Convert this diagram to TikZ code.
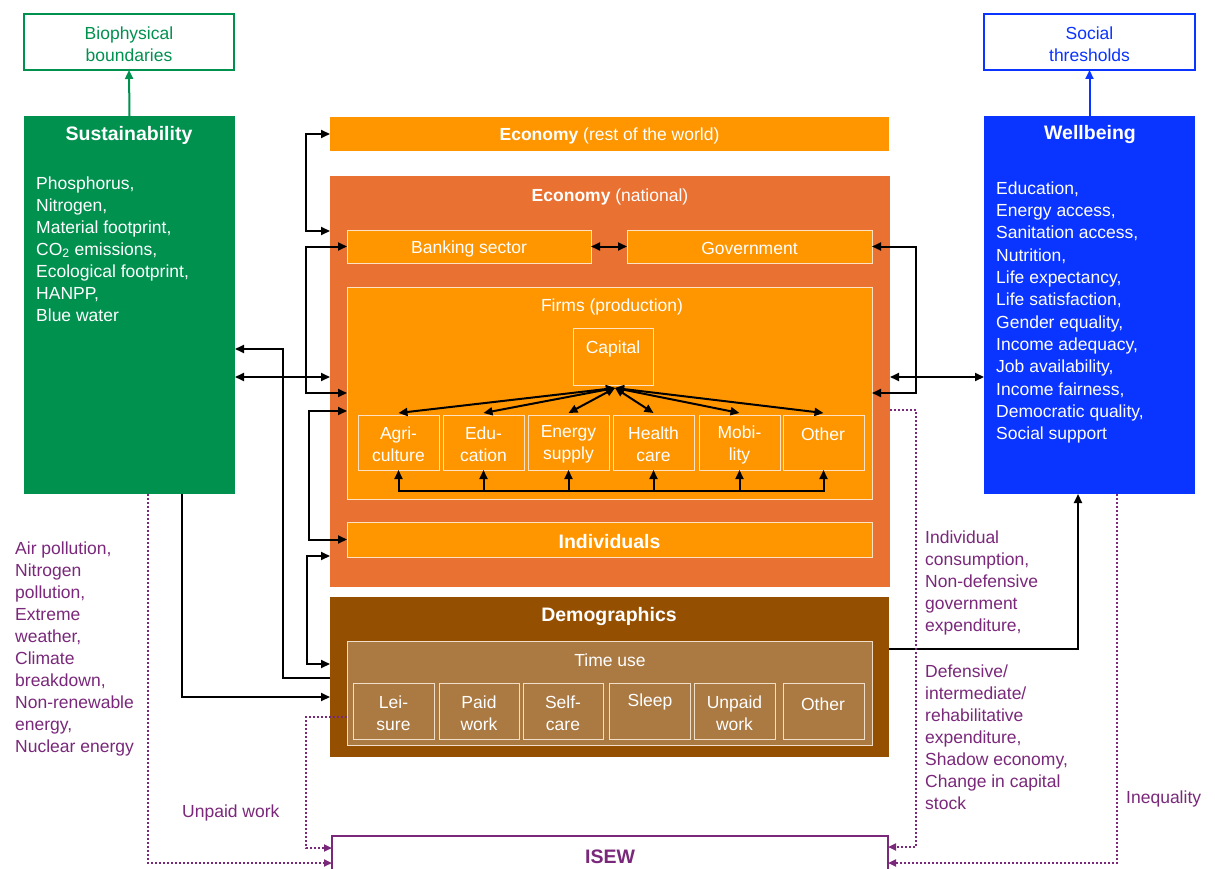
\documentclass[tikz,border=0pt]{standalone}
\usepackage{fontspec}
\setmainfont{Liberation Sans}
\usetikzlibrary{arrows.meta,calc}
\definecolor{cgreen}{RGB}{0,145,79}
\definecolor{cblue}{RGB}{10,52,255}
\definecolor{corL}{RGB}{255,150,0}
\definecolor{corD}{RGB}{233,113,50}
\definecolor{cbrown}{RGB}{149,79,0}
\definecolor{ctime}{RGB}{171,121,66}
\definecolor{cpurple}{RGB}{122,40,122}
\definecolor{cedge}{RGB}{255,226,196}
\definecolor{cedgeT}{RGB}{240,222,200}
\newcommand\mkbox[6]{\node[#2, minimum width={#5-#3}, minimum height={#6-#4}] (#1) at ({(#3+#5)/2},{(#4+#6)/2}) {};}
\begin{document}
\begin{tikzpicture}[x=1pt,y=-1pt,
  base/.style={rectangle, inner sep=0pt, outer sep=0pt},
  outline/.style={base, fill=white, line width=1.8pt},
  solid box/.style={base},
  inbox/.style={base, fill=corL, draw=cedge, line width=0.9pt},
  tbox/.style={base, fill=ctime, draw=cedgeT, line width=0.9pt},
  txt/.style={inner sep=0pt, text=white, font=\fontsize{17.5}{22}\selectfont},
  lbl/.style={txt, yshift=-2pt},
  ttl/.style={inner sep=0pt, text=white, yshift=-2pt, font=\fontsize{19.5}{22}\selectfont\bfseries},
  ptxt/.style={inner sep=0pt, text=cpurple, anchor=north west, align=left, font=\fontsize{17.5}{22}\selectfont},
  ctr/.style={lbl, align=center},
  arr/.style={line width=2pt, -{Triangle[length=9pt,width=8pt]}},
  dbl/.style={line width=2pt, {Triangle[length=9pt,width=8pt]}-{Triangle[length=9pt,width=8pt]}},
  plain/.style={line width=2pt},
  pdot/.style={cpurple, line width=2pt, dash pattern=on 2pt off 2pt, -{Triangle[length=8pt,width=7pt]}},
]
\useasboundingbox (0,0) rectangle (1215,869);
\fill[white] (0,0) rectangle (1215,869);

% threshold boxes
\mkbox{bio}{outline, draw=cgreen}{24}{14}{234}{70}
\mkbox{soc}{outline, draw=cblue}{984}{14}{1195}{70}
\node[ctr, text=cgreen] (biot) at (bio.center) {Biophysical\\boundaries};
\node[ctr, text=cblue] (soct) at (soc.center) {Social\\thresholds};

% side boxes
\mkbox{sus}{solid box, fill=cgreen}{24}{116}{235}{494}
\mkbox{wb}{solid box, fill=cblue}{984}{116}{1195}{494}
\node[ttl] (sust) at (129,133) {Sustainability};
\node[ttl] (wbt) at (1090,133) {Wellbeing};
\node[txt, anchor=north west, align=left] (susl) at (36,176.5)
  {Phosphorus,\\Nitrogen,\\Material footprint,\\CO\textsubscript{2} emissions,\\Ecological footprint,\\HANPP,\\Blue water};
\node[txt, anchor=north west, align=left, font=\fontsize{17.5}{22.3}\selectfont] (wbl) at (996,181.5)
  {Education,\\Energy access,\\Sanitation access,\\Nutrition,\\Life expectancy,\\Life satisfaction,\\Gender equality,\\Income adequacy,\\Job availability,\\Income fairness,\\Democratic quality,\\Social support};

\draw[arr, cgreen] (sus.north) -- (bio.south);
\draw[arr, cblue] (wb.north -| soc.south) -- (soc.south);

% economy
\mkbox{row}{solid box, fill=corL}{330}{117}{889}{151}
\node[lbl] (rowt) at (row.center) {\textbf{Economy} (rest of the world)};
\mkbox{econ}{solid box, fill=corD}{330}{176}{890}{587}
\node[lbl] (econt) at (610,195) {\textbf{Economy} (national)};
\mkbox{bank}{inbox}{347}{230}{591}{263}
\mkbox{gov}{inbox}{627}{230}{872}{263}
\node[lbl] (bankt) at (bank.center) {Banking sector};
\node[lbl] (govt) at (gov.center) {Government};
\mkbox{firms}{inbox}{347}{287}{872}{499}
\node[lbl] (firmst) at (612,305) {Firms (production)};
\mkbox{cap}{inbox}{573}{328}{653}{385}
\node[lbl] (capt) at (613,347) {Capital};
\mkbox{agri}{inbox}{358}{415}{439}{470}
\mkbox{edu}{inbox}{443}{415}{524}{470}
\mkbox{ener}{inbox}{528}{415}{609}{470}
\mkbox{heal}{inbox}{613}{415}{694}{470}
\mkbox{mobi}{inbox}{699}{415}{780}{470}
\mkbox{oths}{inbox}{783}{415}{864}{470}
\node[ctr] (agrit) at (agri.center) {Agri-\\culture};
\node[ctr] (edut) at (edu.center) {Edu-\\cation};
\node[ctr] (enert) at (ener.center) {Energy\\supply};
\node[ctr] (healt) at (heal.center) {Health\\care};
\node[ctr] (mobit) at (mobi.center) {Mobi-\\lity};
\node[lbl] (othst) at (823,432) {Other};
\mkbox{indiv}{inbox}{347}{522}{872}{557}
\node[ttl] (indivt) at (indiv.center) {Individuals};

% demographics
\mkbox{demo}{solid box, fill=cbrown}{330}{597}{889}{757}
\node[ttl] (demot) at (609,614) {Demographics};
\mkbox{tuse}{tbox}{347}{641}{872}{745}
\node[lbl] (tuset) at (610,658) {Time use};
\mkbox{lei}{tbox}{353}{683}{434}{739}
\mkbox{paid}{tbox}{439}{683}{519}{739}
\mkbox{self}{tbox}{523}{683}{603}{739}
\mkbox{sleep}{tbox}{609}{683}{690}{739}
\mkbox{unp}{tbox}{694}{683}{775}{739}
\mkbox{otht}{tbox}{783}{683}{864}{739}
\node[ctr] (leit) at (lei.center) {Lei-\\sure};
\node[ctr] (paidt) at (paid.center) {Paid\\work};
\node[ctr] (selft) at (self.center) {Self-\\care};
\node[lbl] (sleept) at (650,700) {Sleep};
\node[ctr] (unpt) at (unp.center) {Unpaid\\work};
\node[lbl] (othtt) at (823,702) {Other};

% ISEW
\begin{scope}
\clip (0,0) rectangle (1215,869);
\mkbox{isew}{base, draw=cpurple, line width=1.8pt}{332}{836}{888}{900}
\end{scope}
\node[ttl, text=cpurple] (isewt) at (610,855) {ISEW};

% black connectors (left)
\draw[dbl] (row.west) -- ++(-24,0) |- (econ.west |- 0,231);
\draw[dbl] (bank.west) -- ++(-41,0) |- (firms.west |- 0,393);
\draw[dbl] (sus.east |- 0,377) -- (econ.west |- 0,377);
\draw[arr] (demo.west |- 0,678) -- ++(-47,0) |- (sus.east |- 0,349);
\draw[dbl] (firms.west |- 0,411) -- ++(-38,0) |- (indiv.west);
\draw[dbl] (econ.west |- 0,556) -- ++(-23,0) |- (demo.west |- 0,664);
\draw[arr] (sus.south -| 182,0) |- (demo.west |- 0,697);
% right
\draw[dbl] (gov.east) -- ++(44,0) |- (firms.east |- 0,393);
\draw[dbl] (econ.east |- 0,377) -- (wb.west |- 0,377);
\draw[arr] (demo.east |- 0,649) -| (wb.south -| 1078,0);
\draw[dbl] (bank.east) -- (gov.west);
% capital
\foreach \s in {agri,edu,ener,heal,mobi,oths}{
  \draw[dbl] ($(cap.south)+(2,3)$) -- ($(\s.north)+(0,-2)$);
  \draw[arr] (\s.south |- 0,491) -- (\s.south);
}
\draw[plain] ($(agri.south |- 0,491)+(-1,0)$) -- ($(oths.south |- 0,491)+(1,0)$);

% purple dotted
\draw[pdot] (econ.east |- 0,410) -- ++(26,0) |- (isew.east |- 0,847);
\draw[pdot] (wb.south -| 1117,0) |- (isew.east |- 0,863);
\draw[pdot] (sus.south -| 148,0) |- (isew.west |- 0,863);
\draw[pdot] (tuse.west |- 0,717) -- ++(-41,0) |- (isew.west |- 0,848);

% purple labels
\node[ptxt] (airl) at (15,541.5) {Air pollution,\\Nitrogen\\pollution,\\Extreme\\weather,\\Climate\\breakdown,\\Non-renewable\\energy,\\Nuclear energy};
\node[ptxt] (unpl) at (182,804.5) {Unpaid work};
\node[ptxt] (indl) at (925,530.5) {Individual\\consumption,\\Non-defensive\\government\\expenditure,};
\node[ptxt] (defl) at (925,664.5) {Defensive/\\intermediate/\\rehabilitative\\expenditure,\\Shadow economy,\\Change in capital\\stock};
\node[ptxt] (ineql) at (1126,790.5) {Inequality};
\end{tikzpicture}
\end{document}
